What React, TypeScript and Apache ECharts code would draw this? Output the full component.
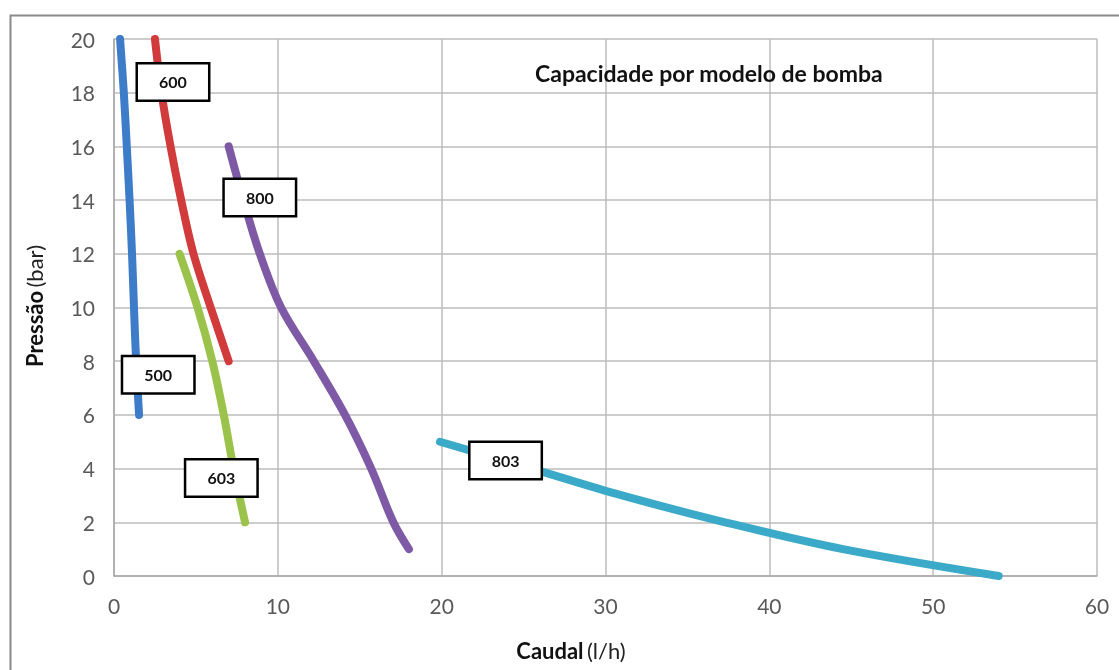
import React, { useEffect, useRef } from "react";
import * as echarts from "echarts";

// Caudal (l/h), Pressão (bar) pairs per pump model
const model500: number[][] = [[0.37, 20], [0.6, 18], [0.78, 16], [0.95, 14], [1.1, 12], [1.22, 10], [1.35, 8], [1.53, 6]];
const model600: number[][] = [[2.5, 20], [2.9, 18], [3.45, 16], [4.1, 14], [4.85, 12], [5.9, 10], [7.0, 8]];
const model603: number[][] = [[4.0, 12], [5.1, 10], [6.0, 8], [6.7, 6], [7.3, 4], [8.0, 2]];
const model800: number[][] = [[7.0, 16], [7.9, 14], [8.9, 12], [10.2, 10], [12.2, 8], [14.1, 6], [15.7, 4], [17.05, 2], [18.0, 1]];
const model803: number[][] = [[19.9, 5], [25.5, 4], [31, 3], [37.3, 2], [44.5, 1], [54, 0]];

const seriesNames = ["500", "600", "603", "800", "803"];
const seriesColors = ["#3d7cc9", "#d13b3b", "#9bc34b", "#7e5aa6", "#3aaac8"];

// label anchors (data coords) for the boxed model labels
const labelNames = ["600", "800", "500", "603", "803"];
const labelX = [3.6, 8.9, 2.7, 6.55, 23.9];
const labelY = [18.4, 14.1, 7.5, 3.65, 4.3];

const xTicks = { min: 0, max: 60, interval: 10 };
const yTicks = { min: 0, max: 20, interval: 2 };

const chartTitle = "Capacidade por modelo de bomba";
const FONT = 'Lato, "Open Sans", sans-serif';

export default function App() {
  const ref = useRef<HTMLDivElement>(null);
  useEffect(() => {
    if (!ref.current) return;
    const chart = echarts.init(ref.current, null, { renderer: "svg" });
    const data = [model500, model600, model603, model800, model803];
    const lineSeries = data.map((d, i) => ({
      type: "line",
      name: seriesNames[i],
      data: d,
      smooth: 0.35,
      showSymbol: false,
      symbol: "none",
      z: 3,
      lineStyle: { color: seriesColors[i], width: 8, cap: "round", join: "round" },
    }));
    chart.setOption({
      animation: false,
      textStyle: { fontFamily: FONT },
      grid: { left: 114, right: 22, top: 39, bottom: 94, containLabel: false },
      xAxis: {
        type: "value",
        min: xTicks.min,
        max: xTicks.max,
        interval: xTicks.interval,
        axisLine: { show: true, lineStyle: { color: "#a8a8a8", width: 1.5 } },
        axisTick: { show: false },
        splitLine: { show: true, lineStyle: { color: "#bdbdbd", width: 1.5 } },
        axisLabel: { color: "#595959", fontSize: 21, margin: 19, fontFamily: FONT },
      },
      yAxis: {
        type: "value",
        min: yTicks.min,
        max: yTicks.max,
        interval: yTicks.interval,
        axisLine: { show: true, lineStyle: { color: "#a8a8a8", width: 1.5 } },
        axisTick: { show: false },
        splitLine: { show: true, lineStyle: { color: "#bdbdbd", width: 1.5 } },
        axisLabel: { color: "#595959", fontSize: 21, margin: 19, fontFamily: FONT },
      },
      series: [
        ...lineSeries,
        {
          type: "scatter",
          name: "labels",
          symbolSize: 0,
          z: 10,
          itemStyle: { opacity: 1 },
          data: labelNames.map((n, i) => ({ value: [labelX[i], labelY[i]], name: n })),
          label: {
            show: true,
            position: "inside",
            formatter: (p: any) => p.name,
            color: "#111",
            fontWeight: "bold",
            fontSize: 16,
            fontFamily: FONT,
            backgroundColor: "#ffffff",
            borderColor: "#000",
            borderWidth: 2.5,
            opacity: 1,
            width: 70,
            height: 35,
            lineHeight: 35,
            align: "center",
            verticalAlign: "middle",
          },
        },
      ],
      graphic: [
        {
          type: "rect",
          left: 8,
          top: 13,
          shape: { width: 1200, height: 700 },
          style: { fill: "none", stroke: "#8a8a8a", lineWidth: 2 },
          silent: true,
          z: -1,
        },
        {
          type: "text",
          left: 535,
          top: 61,
          style: { text: chartTitle, fill: "#111", font: `bold 23px ${FONT}` },
          z: 20,
        },
        {
          type: "text",
          x: 34,
          y: 306,
          rotation: Math.PI / 2,
          style: {
            text: "{b|Pressão} {n|(bar)}",
            align: "center",
            verticalAlign: "middle",
            rich: {
              b: { fontWeight: "bold", fontSize: 22, fill: "#111", fontFamily: FONT },
              n: { fontSize: 22, fill: "#222", fontFamily: FONT },
            },
          },
        },
        {
          type: "text",
          x: 571,
          y: 650,
          style: {
            text: "{b|Caudal} {n|(l/h)}",
            align: "center",
            verticalAlign: "middle",
            rich: {
              b: { fontWeight: "bold", fontSize: 22, fill: "#111", fontFamily: FONT },
              n: { fontSize: 22, fill: "#222", fontFamily: FONT },
            },
          },
        },
      ],
    });
    return () => chart.dispose();
  }, []);
  return <div ref={ref} style={{ position: "fixed", left: 0, top: 0, width: 1119, height: 670 }} />;
}
